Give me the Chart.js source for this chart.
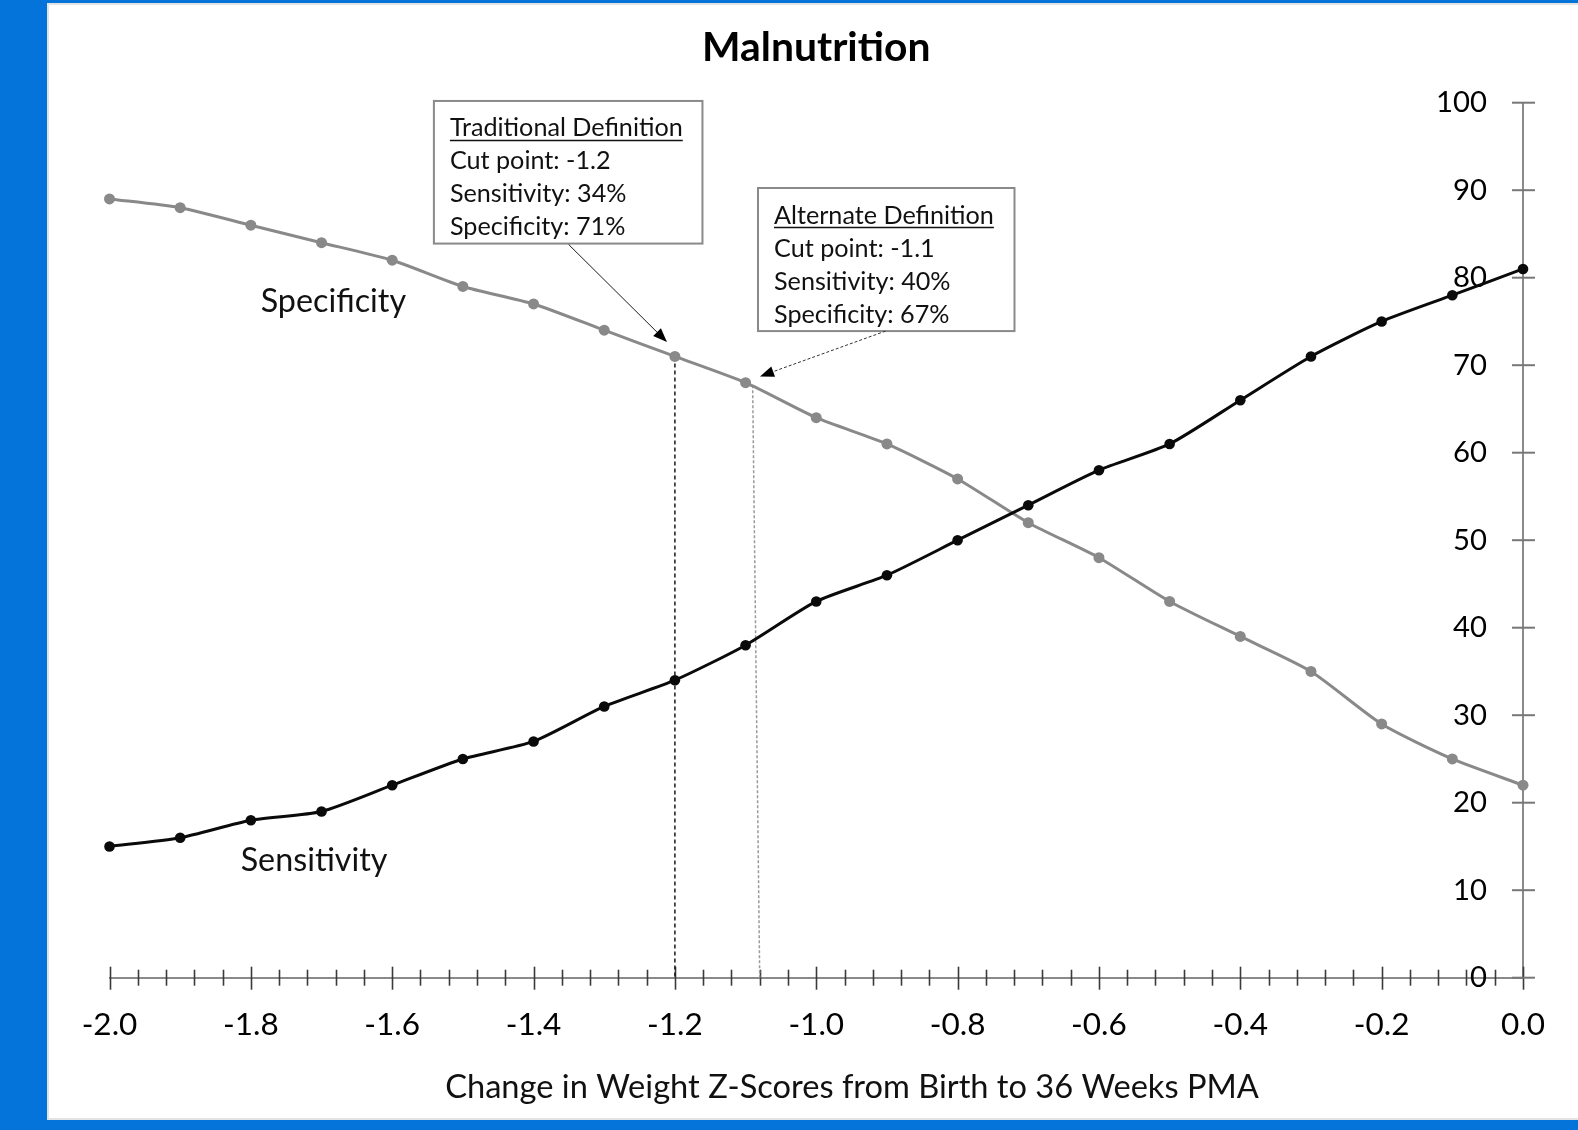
<!DOCTYPE html>
<html>
<head>
<meta charset="utf-8">
<script src="https://cdn.jsdelivr.net/npm/chart.js@4.4.1/dist/chart.umd.min.js"></script>
<style>
  html, body { margin: 0; padding: 0; width: 1578px; height: 1130px; overflow: hidden; background: #0474da; }
  #panel { position: absolute; left: 47px; top: 3px; width: 1531px; height: 1117px; background: #ffffff;
           box-shadow: inset 2px 2px 0 #e3e3e3, inset 0 -2px 0 #e3e3e3; }
  #chart { position: absolute; left: 0; top: 0; }
</style>
</head>
<body>
<div id="panel"><canvas id="chart" width="1531" height="1117"></canvas></div>
<script>
// ---------- data ----------
const categories = [-2.0, -1.9, -1.8, -1.7, -1.6, -1.5, -1.4, -1.3, -1.2, -1.1, -1.0,
                    -0.9, -0.8, -0.7, -0.6, -0.5, -0.4, -0.3, -0.2, -0.1, 0.0];
const sensitivity = [15, 16, 18, 19, 22, 25, 27, 31, 34, 38, 43, 46, 50, 54, 58, 61, 66, 71, 75, 78, 81];
const specificity = [89, 88, 86, 84, 82, 79, 77, 74, 71, 68, 64, 61, 57, 52, 48, 43, 39, 35, 29, 25, 22];
const xTickValues = [-2.0, -1.8, -1.6, -1.4, -1.2, -1.0, -0.8, -0.6, -0.4, -0.2, 0.0];
const xTickLabels = ['-2.0', '-1.8', '-1.6', '-1.4', '-1.2', '-1.0', '-0.8', '-0.6', '-0.4', '-0.2', '0.0'];
const yTickValues = [0, 10, 20, 30, 40, 50, 60, 70, 80, 90, 100];
const yTickLabels = ['0', '10', '20', '30', '40', '50', '60', '70', '80', '90', '100'];
const titleText = 'Malnutrition';
const xAxisTitle = 'Change in Weight Z-Scores from Birth to 36 Weeks PMA';
const seriesNames = ['Sensitivity', 'Specificity'];
const traditionalLines = ['Traditional Definition', 'Cut point: -1.2', 'Sensitivity: 34%', 'Specificity: 71%'];
const alternateLines = ['Alternate Definition', 'Cut point: -1.1', 'Sensitivity: 40%', 'Specificity: 67%'];

// annotation anchors (data units)
const tradBox = { x1: -1.541, y1: 100.2, x2: -1.161, y2: 83.9 };
const altBox = { x1: -1.0824, y1: 90.25, x2: -0.7195, y2: 73.9 };
const tradArrow = { x1: -1.3504, y1: 83.8, x2: -1.2112, y2: 72.65 };
const altArrow = { x1: -0.9019, y1: 73.9, x2: -1.0796, y2: 68.72 };
const cutLines = [
  { x1: -1.2, y1: 71, x2: -1.2, y2: 0 },
  { x1: -1.09, y1: 67.7, x2: -1.08, y2: 0 }
];
const curveLabels = [
  { text: 'Specificity', x: -1.7861, y: 76.1 },
  { text: 'Sensitivity', x: -1.8144, y: 12.23 }
];

// ---------- styles ----------
const FAMILY = 'Lato';
function fitSize(text, weight, target) {
  const c = document.createElement('canvas').getContext('2d');
  c.font = weight + ' 100px ' + FAMILY;
  return 100 * target / c.measureText(text).width;
}
const titleSize = fitSize(titleText, 'bold', 228.5);
const xTickSize = fitSize('-2.0', 'normal', 55.7);
const yTickSize = fitSize('100', 'normal', 51);
const axisTitleSize = fitSize(xAxisTitle, 'normal', 814);
const boxSize = fitSize(traditionalLines[0], 'normal', 233);
const curveLabelSize = (fitSize('Specificity', 'normal', 145.3) + fitSize('Sensitivity', 'normal', 147)) / 2;

const CANVAS_H = 1117;
const AREA_TOP = 99.7;
const AREA_BOTTOM = 974.7;
const titlePadTop = 44.8 - 0.6 * titleSize;
const titlePadBottom = AREA_TOP - titlePadTop - 1.2 * titleSize;
const xTickPad = (1021.4 - AREA_BOTTOM) - 0.6 * xTickSize;

const GRAY = '#898989';
const BLACK = '#0a0a0a';

function arrowTo(ctx, x1, y1, x2, y2, len, hw) {
  const a = Math.atan2(y2 - y1, x2 - x1);
  ctx.beginPath();
  ctx.moveTo(x1, y1);
  ctx.lineTo(x2 - len * 0.7 * Math.cos(a), y2 - len * 0.7 * Math.sin(a));
  ctx.stroke();
  ctx.setLineDash([]);
  const bx = x2 - len * Math.cos(a), by = y2 - len * Math.sin(a);
  ctx.beginPath();
  ctx.moveTo(x2, y2);
  ctx.lineTo(bx + hw * Math.sin(a), by - hw * Math.cos(a));
  ctx.lineTo(bx - hw * Math.sin(a), by + hw * Math.cos(a));
  ctx.closePath();
  ctx.fill();
}

function drawBox(ctx, xs, ys, box, lines) {
  const l = xs.getPixelForValue(box.x1), r = xs.getPixelForValue(box.x2);
  const t = ys.getPixelForValue(box.y1), b = ys.getPixelForValue(box.y2);
  ctx.save();
  ctx.fillStyle = '#ffffff';
  ctx.fillRect(l, t, r - l, b - t);
  ctx.strokeStyle = '#8a8a8a';
  ctx.lineWidth = 2;
  ctx.strokeRect(l, t, r - l, b - t);
  ctx.fillStyle = '#111111';
  ctx.font = boxSize + 'px ' + FAMILY;
  ctx.textAlign = 'left';
  ctx.textBaseline = 'alphabetic';
  const tx = l + 16;
  lines.forEach((s, i) => {
    const y = t + 35.5 + i * 33;
    ctx.fillText(s, tx, y);
    if (i === 0) {
      const w = ctx.measureText(s).width;
      ctx.strokeStyle = '#111111';
      ctx.lineWidth = 1.5;
      ctx.beginPath();
      ctx.moveTo(tx, y + 4);
      ctx.lineTo(tx + w, y + 4);
      ctx.stroke();
    }
  });
  ctx.restore();
}

const decorPlugin = {
  id: 'decor',
  beforeDatasetsDraw(chart) {
    const ctx = chart.ctx, xs = chart.scales.x, ys = chart.scales.y;
    const axisY = ys.getPixelForValue(0);
    const axisX = xs.getPixelForValue(0);
    ctx.save();
    // x-axis tick marks (major + minor), crossing the axis
    ctx.strokeStyle = '#3a3a3a';
    ctx.lineWidth = 1.6;
    for (let i = 0; i <= 50; i++) {
      const v = -2 + i * 0.04;
      const px = Math.round(xs.getPixelForValue(v)) + 0.5;
      const major = i % 5 === 0;
      ctx.beginPath();
      ctx.moveTo(px, axisY - (major ? 11 : 8));
      ctx.lineTo(px, axisY + (major ? 12 : 8));
      ctx.stroke();
    }
    // y-axis tick marks, crossing the axis
    ctx.strokeStyle = '#777777';
    ctx.lineWidth = 2;
    yTickValues.forEach(v => {
      const py = ys.getPixelForValue(v);
      ctx.beginPath();
      ctx.moveTo(axisX - 11, py);
      ctx.lineTo(axisX + 12, py);
      ctx.stroke();
    });
    // cut-point dashed lines
    ctx.lineWidth = 1.5;
    cutLines.forEach((c, i) => {
      ctx.strokeStyle = i === 0 ? '#1a1a1a' : '#9a9a9a';
      ctx.setLineDash(i === 0 ? [4, 3] : [3, 2]);
      ctx.beginPath();
      ctx.moveTo(xs.getPixelForValue(c.x1), ys.getPixelForValue(c.y1));
      ctx.lineTo(xs.getPixelForValue(c.x2), ys.getPixelForValue(c.y2));
      ctx.stroke();
    });
    ctx.restore();
  },
  afterDatasetsDraw(chart) {
    const ctx = chart.ctx, xs = chart.scales.x, ys = chart.scales.y;
    drawBox(ctx, xs, ys, tradBox, traditionalLines);
    drawBox(ctx, xs, ys, altBox, alternateLines);
    ctx.save();
    ctx.fillStyle = '#000';
    ctx.strokeStyle = '#1a1a1a';
    ctx.lineWidth = 1;
    arrowTo(ctx, xs.getPixelForValue(tradArrow.x1), ys.getPixelForValue(tradArrow.y1),
            xs.getPixelForValue(tradArrow.x2), ys.getPixelForValue(tradArrow.y2), 14, 5.5);
    ctx.strokeStyle = '#333';
    ctx.setLineDash([3, 2]);
    arrowTo(ctx, xs.getPixelForValue(altArrow.x1), ys.getPixelForValue(altArrow.y1),
            xs.getPixelForValue(altArrow.x2), ys.getPixelForValue(altArrow.y2), 14, 5.5);
    ctx.setLineDash([]);
    // curve labels
    ctx.fillStyle = '#111';
    ctx.font = curveLabelSize + 'px ' + FAMILY;
    ctx.textAlign = 'left';
    ctx.textBaseline = 'alphabetic';
    curveLabels.forEach(l => ctx.fillText(l.text, xs.getPixelForValue(l.x), ys.getPixelForValue(l.y)));
    // x-axis title
    ctx.font = axisTitleSize + 'px ' + FAMILY;
    ctx.textAlign = 'center';
    ctx.fillText(xAxisTitle, 805, 1095);
    ctx.restore();
  }
};

const lookup = (vals, labels, v) => {
  const i = vals.findIndex(t => Math.abs(t - v) < 1e-9);
  return i >= 0 ? labels[i] : '';
};

new Chart(document.getElementById('chart'), {
  type: 'line',
  data: {
    datasets: [
      {
        label: seriesNames[0],
        data: categories.map((x, i) => ({ x: x, y: sensitivity[i] })),
        borderColor: BLACK, backgroundColor: BLACK,
        borderWidth: 3, pointRadius: 5.3, pointBorderWidth: 0,
        pointBackgroundColor: BLACK, tension: 0.22, clip: false
      },
      {
        label: seriesNames[1],
        data: categories.map((x, i) => ({ x: x, y: specificity[i] })),
        borderColor: GRAY, backgroundColor: GRAY,
        borderWidth: 3, pointRadius: 5.5, pointBorderWidth: 0,
        pointBackgroundColor: GRAY, tension: 0.22, clip: false
      }
    ]
  },
  options: {
    responsive: false,
    animation: false,
    events: [],
    layout: { padding: { left: 62.5, right: 0, top: 0, bottom: 0 } },
    plugins: {
      legend: { display: false },
      tooltip: { enabled: false },
      title: {
        display: true, text: titleText, fullSize: false, color: '#000',
        font: { family: FAMILY, weight: 'bold', size: titleSize },
        padding: { top: titlePadTop, bottom: titlePadBottom }
      }
    },
    scales: {
      x: {
        type: 'linear', min: -2, max: 0,
        afterBuildTicks: s => { s.ticks = xTickValues.map(v => ({ value: v })); },
        afterFit: s => { s.height = CANVAS_H - AREA_BOTTOM; },
        ticks: {
          autoSkip: false, maxRotation: 0, minRotation: 0, padding: xTickPad, color: '#000',
          font: { family: FAMILY, size: xTickSize },
          callback: v => lookup(xTickValues, xTickLabels, v)
        },
        grid: { display: true, drawOnChartArea: false, drawTicks: false },
        border: { display: true, color: '#8a8a8a', width: 2 }
      },
      y: {
        type: 'linear', position: 'right', min: 0, max: 100,
        afterBuildTicks: s => { s.ticks = yTickValues.map(v => ({ value: v })); },
        afterFit: s => { s.width = 55; },
        ticks: {
          mirror: true, crossAlign: 'near', padding: -36, color: '#000',
          font: { family: FAMILY, size: yTickSize },
          callback: v => lookup(yTickValues, yTickLabels, v)
        },
        grid: { display: true, drawOnChartArea: false, drawTicks: false },
        border: { display: true, color: '#8a8a8a', width: 2 }
      }
    }
  },
  plugins: [decorPlugin]
});
</script>
</body>
</html>
